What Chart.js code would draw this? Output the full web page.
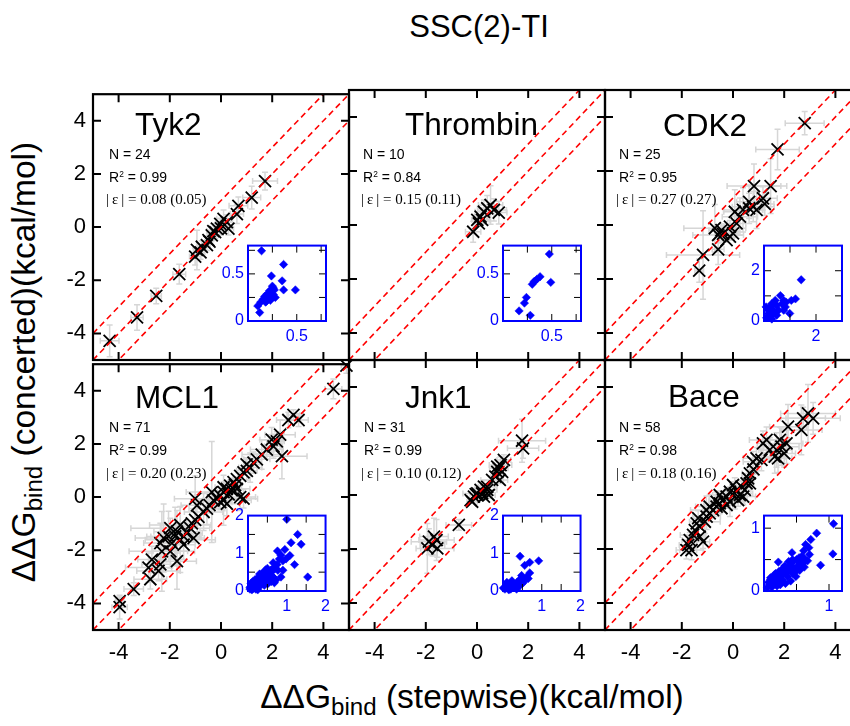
<!DOCTYPE html>
<html>
<head>
<meta charset="utf-8">
<script src="https://cdn.jsdelivr.net/npm/chart.js@4.4.1/dist/chart.umd.min.js"></script>
<style>
  body { margin: 0; background: #fff; overflow: hidden; }
  #wrap { position: relative; width: 850px; height: 726px; overflow: hidden; background: #fff;
          font-family: "Liberation Sans", Arial, Helvetica, sans-serif; color: #000; }
  #wrap canvas { position: absolute; }
  .txt { position: absolute; white-space: nowrap; line-height: 1; }
  .txt sub { font-size: 72%; vertical-align: -0.28em; line-height: 0; }
  .txt sup { font-size: 60%; vertical-align: 0.55em; line-height: 0; }
  .serif { font-family: "Liberation Serif", "Times New Roman", serif; }
</style>
</head>
<body>
<div id="wrap"></div>
<script>
const FONT = '"Liberation Sans", Arial, Helvetica, sans-serif';

// --- shared axis values ---
const mainTicks = [-4, -2, 0, 2, 4];
const diagOffsets = [-1, 0, 1];
const diagEnds = [-5, 5];

// --- Tyk2 ---
const tyk2X = [-4.35, -3.28, -2.53, -1.63, -1.01, -0.94, -0.80, -0.75, -0.55, -0.49, -0.45, -0.36, -0.30, -0.23, -0.16, -0.03, 0.00, 0.10, 0.23, 0.29, 0.62, 0.68, 1.20, 1.72];
const tyk2Y = [-4.28, -3.40, -2.59, -1.77, -1.11, -0.86, -0.95, -0.74, -0.68, -0.49, -0.55, -0.31, -0.15, -0.19, -0.06, 0.12, -0.05, 0.31, 0.19, -0.06, 0.49, 0.80, 1.11, 1.73];
const tyk2SdX = [0.365, 0.24, 0.20, 0.25, 0.22, 0.139, 0.17, 0.155, 0.13, 0.10, 0.12, 0.18, 0.26, 0.28, 0.23, 0.19, 0.25, 0.27, 0.22, 0.20, 0.26, 0.365, 0.35, 0.486];
const tyk2SdY = [0.60, 0.478, 0.29, 0.37, 0.32, 0.745, 0.26, 0.23, 0.20, 0.16, 0.09, 0.20, 0.28, 0.25, 0.22, 0.21, 0.26, 0.33, 0.27, 0.24, 0.35, 0.33, 0.426, 0.33];

// --- Thrombin ---
const thrX = [-0.15, 0.01, 0.07, 0.14, 0.20, 0.27, 0.40, 0.53, 0.66, 0.85];
const thrY = [-0.25, 0.19, 0.06, 0.31, 0.19, 0.49, 0.62, 0.74, 0.56, 0.46];
const thrSdX = [0.30, 0.22, 0.165, 0.24, 0.28, 0.345, 0.38, 0.475, 0.49, 0.32];
const thrSdY = [0.39, 0.19, 0.107, 0.25, 0.06, 0.44, 0.47, 0.71, 0.41, 0.42];

// --- CDK2 ---
const cdk2X = [2.80, 1.74, 0.82, 1.47, 0.63, 1.17, 1.24, 0.79, 0.92, 0.07, 0.27, 0.39, 0.14, -0.12, -0.71, -0.45, -0.39, -0.58, -0.12, -0.25, 0.00, -1.17, -0.58, -1.32, 0.63];
const cdk2Y = [3.77, 2.80, 1.44, 1.44, 0.86, 0.99, 0.78, 0.68, 0.56, 0.49, 0.31, 0.56, 0.06, -0.06, -0.12, -0.19, -0.33, -0.37, -0.43, -0.56, -0.31, -1.11, -0.90, -1.69, 0.62];
const cdk2SdX = [0.76, 0.85, 1.05, 0.63, 0.49, 0.56, 0.36, 0.82, 0.30, 0.43, 0.69, 0.76, 0.36, 0.23, 1.21, 0.49, 0.17, 0.99, 0.10, 0.30, 0.20, 1.43, 0.23, 0.17, 0.08];
const cdk2SdY = [0.43, 0.75, 0.82, 1.01, 0.62, 0.43, 0.43, 0.56, 0.69, 0.82, 0.69, 0.82, 0.30, 0.23, 0.88, 0.23, 0.30, 0.30, 0.13, 0.08, 0.15, 1.64, 0.56, 0.43, 0.56];

// --- MCL1 ---
const mcl1X = [4.90, 4.39, 2.83, 3.03, 2.63, 2.31, 2.18, 2.05, 2.38, 1.98, 1.79, 1.59, 1.40, 1.27, 1.14, 1.01, 1.00, 0.88, 0.75, 0.62, 0.49, 0.36, 0.42, 0.23, 0.10, -0.03, -0.16, -0.29, 0.10, 0.23, 0.75, 0.88, -1.01, -0.55, -0.68, -0.88, -1.01, -1.14, -1.20, -1.07, -1.33, -1.46, -1.59, -1.72, -1.98, -1.79, -2.05, -2.24, -2.37, -1.92, -1.46, -2.31, -1.98, -1.72, -2.70, -2.37, -2.44, -2.83, -2.76, -3.41, -3.96, -3.96, -0.36, -0.03, 0.10, -0.94, 0.62, -0.45, 0.30, -1.59, 0.55];
const mcl1Y = [4.95, 4.07, 3.09, 2.90, 2.90, 2.35, 2.10, 1.91, 1.54, 2.16, 1.79, 1.60, 1.42, 1.30, 1.11, 0.99, 1.23, 0.93, 0.80, 0.68, 0.56, 0.43, 0.25, 0.31, 0.19, 0.06, -0.06, -0.12, -0.12, -0.25, 0.00, -0.06, -0.06, -0.43, -0.56, -0.74, -0.86, -0.99, -1.17, -1.54, -1.36, -1.48, -1.60, -1.30, -1.17, -1.48, -1.48, -1.54, -1.73, -1.73, -1.79, -2.04, -2.04, -2.41, -2.35, -2.53, -2.78, -2.65, -3.09, -3.46, -3.91, -4.14, 0.19, -0.19, 0.37, -0.31, 0.31, -0.30, 0.10, -1.05, 0.45];
const mcl1SdX = [0.20, 0.33, 0.25, 0.38, 0.46, 0.59, 0.29, 0.35, 0.98, 0.46, 0.64, 0.77, 0.51, 0.30, 0.45, 0.40, 0.12, 0.05, 0.10, 0.15, 0.20, 0.08, 0.18, 0.22, 0.25, 0.30, 0.35, 0.40, 1.08, 0.50, 0.60, 0.55, 0.81, 0.70, 0.75, 0.05, 0.10, 0.20, 0.28, 0.42, 0.60, 0.68, 1.37, 0.90, 1.54, 0.95, 0.85, 1.11, 0.65, 0.50, 0.45, 1.28, 0.675, 0.76, 0.55, 0.72, 0.85, 0.90, 0.64, 0.38, 0.16, 0.30, 1.00, 0.46, 0.33, 0.62, 0.51, 0.38, 0.12, 1.20, 0.25];
const mcl1SdY = [0.29, 0.37, 0.20, 0.24, 0.29, 0.55, 0.36, 0.45, 0.85, 0.46, 0.37, 0.55, 0.20, 0.40, 0.55, 0.35, 0.25, 0.10, 0.12, 0.08, 0.15, 0.20, 0.30, 0.20, 0.25, 0.18, 0.30, 0.35, 0.94, 0.45, 0.50, 0.35, 0.85, 0.60, 0.70, 0.05, 0.03, 0.05, 0.10, 0.15, 0.25, 0.22, 1.24, 0.80, 0.37, 1.10, 0.95, 1.28, 0.75, 0.60, 0.55, 1.50, 0.63, 1.06, 0.50, 0.29, 0.37, 0.55, 0.37, 0.24, 0.15, 0.45, 1.90, 0.29, 0.20, 0.40, 0.20, 0.30, 0.06, 0.70, 0.03];

// --- Jnk1 ---
const jnk1X = [1.80, 1.76, 1.05, 0.92, 0.85, 0.79, 0.98, 0.72, 0.89, 0.59, 0.27, 0.14, 0.01, -0.12, -0.25, -0.19, 0.01, 0.20, 0.40, 0.27, 0.46, -0.71, -1.58, -1.68, -1.88, -1.94, -1.55, -1.74, 0.79, 0.40, -0.05];
const jnk1Y = [1.73, 2.01, 1.30, 1.11, 0.99, 0.86, 0.86, 0.68, 0.56, 0.56, 0.31, 0.19, 0.06, -0.06, -0.19, -0.25, -0.01, 0.06, 0.19, -0.06, 0.00, -1.11, -1.67, -1.54, -1.73, -1.98, -1.98, -1.85, 1.05, 0.30, 0.03];
const jnk1SdX = [0.61, 0.92, 0.27, 0.44, 0.36, 0.14, 0.06, 0.18, 0.31, 0.44, 0.10, 0.23, 0.56, 0.01, 0.05, 0.20, 0.12, 0.30, 0.38, 0.08, 0.25, 0.50, 0.69, 0.56, 0.69, 0.44, 0.65, 0.48, 0.15, 0.35, 0.22];
const jnk1SdY = [0.37, 0.80, 0.19, 0.31, 0.23, 0.15, 0.10, 0.08, 0.13, 0.15, 0.23, 0.27, 0.27, 0.08, 0.05, 0.05, 0.18, 0.10, 0.20, 0.12, 0.12, 0.20, 0.76, 0.68, 0.48, 0.92, 0.33, 0.41, 0.03, 0.05, 0.22];

// --- Bace ---
const baceX = [2.93, 3.13, 2.74, 2.67, 2.15, 2.09, 1.89, 1.70, 1.63, 1.76, 1.31, 1.17, 1.44, 0.92, 0.78, 0.66, 0.59, 0.53, 0.33, 0.14, 0.00, -0.12, 0.27, 0.20, -0.25, -0.39, -0.52, -0.64, -0.78, -0.45, -0.25, -0.91, -1.03, -1.10, -1.30, -1.42, -1.49, -1.30, -1.17, -1.69, -1.75, -1.82, -1.62, -1.56, -0.12, 0.07, 0.40, 0.46, 0.66, 1.11, 1.83, 2.00, -0.64, -0.91, -1.04, -1.36, -0.52, 0.80];
const baceY = [3.02, 2.84, 2.84, 2.41, 2.53, 1.91, 1.79, 1.67, 1.42, 1.36, 2.04, 1.91, 1.67, 1.36, 1.23, 0.80, 0.62, 0.43, 0.31, 0.19, 0.37, 0.12, 0.00, -0.19, -0.06, -0.19, -0.31, -0.43, -0.56, -0.49, -0.37, -0.68, -0.80, -0.99, -1.17, -1.05, -1.30, -1.54, -1.73, -1.67, -1.85, -2.04, -2.04, -1.48, -0.25, 0.06, -0.06, 0.19, 0.43, 1.30, 2.04, 1.54, -0.25, -0.43, -0.56, -0.86, 0.00, 0.95];
const baceSdX = [1.07, 1.06, 0.87, 0.81, 0.72, 0.64, 0.69, 0.61, 0.43, 0.54, 0.67, 0.22, 0.43, 0.52, 0.38, 0.31, 0.23, 0.16, 0.10, 0.07, 0.13, 0.20, 0.28, 0.36, 0.44, 0.55, 0.62, 0.49, 0.41, 0.33, 0.25, 0.18, 0.54, 0.60, 0.05, 0.08, 0.12, 0.20, 0.26, 0.30, 0.35, 0.40, 0.46, 0.50, 0.58, 0.70, 0.48, 0.24, 0.15, 0.32, 0.38, 0.44, 0.29, 0.55, 0.62, 0.18, 0.27, 0.10];
const baceSdY = [1.07, 0.59, 0.41, 0.92, 0.82, 0.74, 0.69, 0.64, 0.61, 0.53, 0.48, 0.46, 0.45, 0.40, 0.38, 0.33, 0.31, 0.26, 0.21, 0.14, 0.12, 0.16, 0.18, 0.23, 0.28, 0.33, 0.38, 0.23, 0.16, 0.12, 0.10, 0.21, 0.48, 0.44, 0.05, 0.10, 0.06, 0.08, 0.25, 0.28, 0.30, 0.33, 0.36, 0.50, 0.55, 0.58, 0.30, 0.20, 0.16, 0.40, 0.47, 0.50, 0.36, 0.45, 0.52, 0.28, 0.15, 0.18];

// --- inset axes (max, tick marks, labels) ---
const insetMax = [0.8, 0.8, 3, 2, 2, 1.2];
const insetTicks = [[0.25, 0.5, 0.75], [0.25, 0.5, 0.75], [1, 2], [0.5, 1, 1.5], [0.5, 1, 1.5], [0.5, 1]];
const insetYLabels = [[0, 0.5], [0, 0.5], [0, 2], [0, 1, 2], [0, 1, 2], [0, 1]];
const insetXLabels = [[0.5], [0.5], [2], [1, 2], [1, 2], [1]];

// --- panel text ---
const panelNames = ['Tyk2', 'Thrombin', 'CDK2', 'MCL1', 'Jnk1', 'Bace'];
const panelN = [24, 10, 25, 71, 31, 58];
const panelR2 = ['0.99', '0.84', '0.95', '0.99', '0.99', '0.98'];
const panelErr = ['0.08 (0.05)', '0.15 (0.11)', '0.27 (0.27)', '0.20 (0.23)', '0.10 (0.12)', '0.18 (0.16)'];

const series = [
  [tyk2X, tyk2Y, tyk2SdX, tyk2SdY],
  [thrX, thrY, thrSdX, thrSdY],
  [cdk2X, cdk2Y, cdk2SdX, cdk2SdY],
  [mcl1X, mcl1Y, mcl1SdX, mcl1SdY],
  [jnk1X, jnk1Y, jnk1SdX, jnk1SdY],
  [baceX, baceY, baceSdX, baceSdY]
];

// --- layout ---
const colLeft = [93, 349, 605];
const rowTop = [90, 360];
const PW = 256, PH = 270;
const M = { l: 45, t: 16, r: 12, b: 40 };       // main canvas margins
const IM = { l: 32, t: 12, r: 10, b: 22 };      // inset canvas margins
const insetDx = [155, 154, 159];
const insetDy = 154, IW = 78, IH = 77;

const wrap = document.getElementById('wrap');

// gray error bars, clipped to the plot box
const errorBars = {
  id: 'errorBars',
  beforeDatasetsDraw(chart) {
    const { ctx, chartArea: a, scales: { x, y } } = chart;
    ctx.save();
    ctx.beginPath();
    ctx.rect(a.left, a.top, a.width, a.height);
    ctx.clip();
    ctx.strokeStyle = '#d6d6d6';
    ctx.lineWidth = 1.5;
    chart.data.datasets[0].data.forEach(p => {
      const px = x.getPixelForValue(p.x), py = y.getPixelForValue(p.y);
      const x0 = x.getPixelForValue(p.x - p.ex), x1 = x.getPixelForValue(p.x + p.ex);
      const y0 = y.getPixelForValue(p.y - p.ey), y1 = y.getPixelForValue(p.y + p.ey);
      ctx.beginPath();
      ctx.moveTo(x0, py); ctx.lineTo(x1, py);
      ctx.moveTo(x0, py - 3); ctx.lineTo(x0, py + 3);
      ctx.moveTo(x1, py - 3); ctx.lineTo(x1, py + 3);
      ctx.moveTo(px, y0); ctx.lineTo(px, y1);
      ctx.moveTo(px - 3, y0); ctx.lineTo(px + 3, y0);
      ctx.moveTo(px - 3, y1); ctx.lineTo(px + 3, y1);
      ctx.stroke();
    });
    ctx.restore();
  }
};

// frame + inward ticks on all four sides
const frameTicks = {
  id: 'frameTicks',
  beforeDraw(chart, args, o) {
    if (!o.fill) return;
    const { ctx, chartArea: a } = chart;
    ctx.save();
    ctx.fillStyle = o.fill;
    ctx.fillRect(a.left, a.top, a.width, a.height);
    ctx.restore();
  },
  afterDraw(chart, args, o) {
    const { ctx, chartArea: a, scales: { x, y } } = chart;
    ctx.save();
    ctx.strokeStyle = o.tickColor;
    ctx.lineWidth = o.tickWidth;
    ctx.beginPath();
    o.ticks.forEach(v => {
      const px = x.getPixelForValue(v), py = y.getPixelForValue(v);
      ctx.moveTo(px, a.top); ctx.lineTo(px, a.top + o.len);
      ctx.moveTo(px, a.bottom); ctx.lineTo(px, a.bottom - o.len);
      ctx.moveTo(a.left, py); ctx.lineTo(a.left + o.len, py);
      ctx.moveTo(a.right, py); ctx.lineTo(a.right - o.len, py);
    });
    ctx.stroke();
    ctx.strokeStyle = o.color;
    ctx.lineWidth = o.width;
    ctx.strokeRect(a.left, a.top, a.width, a.height);
    ctx.restore();
  }
};

function axis(min, max, labels, show, size, color, pad, fit) {
  return {
    type: 'linear', min, max,
    grid: { display: false, drawTicks: false },
    border: { display: false },
    afterBuildTicks: s => { s.ticks = labels.map(v => ({ value: v })); },
    afterFit: fit,
    ticks: { display: show, autoSkip: false, maxRotation: 0, padding: pad, color,
             font: { family: FONT, size }, callback: v => String(v) }
  };
}

function addCanvas(left, top, w, h) {
  const c = document.createElement('canvas');
  c.width = w; c.height = h;
  c.style.left = left + 'px'; c.style.top = top + 'px';
  c.style.width = w + 'px'; c.style.height = h + 'px';
  wrap.appendChild(c);
  return c;
}

function addText(html, left, baseline, size, cls) {
  const d = document.createElement('div');
  d.className = 'txt' + (cls ? ' ' + cls : '');
  d.innerHTML = html;
  d.style.fontSize = size + 'px';
  d.style.left = left + 'px';
  d.style.top = (baseline - 0.846 * size) + 'px';
  wrap.appendChild(d);
  return d;
}

function mainPanel(i) {
  const col = i % 3, row = Math.floor(i / 3);
  const [xs, ys, sx, sy] = series[i];
  const pts = xs.map((v, k) => ({ x: v, y: ys[k], ex: sx[k], ey: sy[k] }));
  const lines = diagOffsets.map(o => ({
    type: 'line',
    data: diagEnds.map(v => ({ x: v, y: v + o })),
    showLine: true, borderColor: '#ff0000', borderWidth: 1.6, borderDash: [6, 4],
    pointRadius: 0, fill: false, order: 1
  }));
  const c = addCanvas(colLeft[col] - M.l, rowTop[row] - M.t, M.l + PW + M.r, M.t + PH + M.b);
  new Chart(c, {
    type: 'scatter',
    data: {
      datasets: [{
        data: pts, pointStyle: 'crossRot', pointRadius: 8.5, pointBorderColor: '#000',
        pointBackgroundColor: '#000', pointBorderWidth: 1.8, clip: false, order: 2
      }, ...lines]
    },
    options: {
      responsive: false, animation: false, devicePixelRatio: 1, events: [],
      layout: { padding: { left: 0, top: M.t, right: M.r, bottom: 0 } },
      plugins: {
        legend: { display: false }, tooltip: { enabled: false },
        frameTicks: { ticks: mainTicks, len: 8, color: '#000', width: 2.2, tickColor: '#000', tickWidth: 2 }
      },
      scales: {
        x: axis(-5, 5, mainTicks, row === 1, 22, '#000', 10, s => { s.height = M.b; }),
        y: axis(-5, 5, mainTicks, col === 0, 22, '#000', 7, s => { s.width = M.l; })
      }
    },
    plugins: [errorBars, frameTicks]
  });
}

function insetPanel(i) {
  const col = i % 3, row = Math.floor(i / 3);
  const [, , sx, sy] = series[i];
  const pts = sx.map((v, k) => ({ x: v, y: sy[k] }));
  const bl = colLeft[col] + insetDx[col], bt = rowTop[row] + insetDy;
  const c = addCanvas(bl - IM.l, bt - IM.t, IM.l + IW + IM.r, IM.t + IH + IM.b);
  const mx = insetMax[i];
  new Chart(c, {
    type: 'scatter',
    data: {
      datasets: [{
        data: pts, pointStyle: 'rectRot', pointRadius: 4.2, pointBackgroundColor: '#0000ff',
        pointBorderColor: '#0000ff', pointBorderWidth: 0.5, clip: false
      }]
    },
    options: {
      responsive: false, animation: false, devicePixelRatio: 1, events: [],
      layout: { padding: { left: 0, top: IM.t, right: IM.r, bottom: 0 } },
      plugins: {
        legend: { display: false }, tooltip: { enabled: false },
        frameTicks: { ticks: insetTicks[i], len: 7, color: '#0000ff', width: 2, tickColor: '#000', tickWidth: 1, fill: '#fff' }
      },
      scales: {
        x: axis(0, mx, insetXLabels[i], true, 16, '#0000ff', 6, s => { s.height = IM.b; }),
        y: axis(0, mx, insetYLabels[i], true, 16, '#0000ff', 4, s => { s.width = IM.l; })
      }
    },
    plugins: [frameTicks]
  });
}

for (let i = 0; i < 6; i++) mainPanel(i);
for (let i = 0; i < 6; i++) insetPanel(i);

// --- panel labels and statistics ---
const nameLeft = [135, 405, 663, 135, 405, 668];
const nameBase = [136, 136, 137, 409, 409, 408];
const statLeft = [109, 363, 619, 109, 364, 619];
const errLeft = [106, 361, 616, 106, 361, 616];
const statBase = [[159, 182, 205], [432, 455, 479]];
for (let i = 0; i < 6; i++) {
  const row = Math.floor(i / 3);
  addText(panelNames[i], nameLeft[i], nameBase[i], 31.5);
  addText('N = ' + panelN[i], statLeft[i], statBase[row][0], 14);
  addText('R<sup>2</sup> = ' + panelR2[i], statLeft[i], statBase[row][1], 14);
  addText('|&thinsp;ε&thinsp;| = ' + panelErr[i], errLeft[i], statBase[row][2], 15, 'serif');
}

// --- titles ---
const t = addText('SSC(2)-TI', 479, 37, 31);
t.style.transform = 'translateX(-50%)';
const xt = addText('ΔΔG<sub>bind</sub> (stepwise)(kcal/mol)', 472, 708, 33.5);
xt.style.transform = 'translateX(-50%)';
const yt = document.createElement('div');
yt.className = 'txt';
yt.innerHTML = 'ΔΔG<sub>bind</sub> (concerted)(kcal/mol)';
Object.assign(yt.style, { fontSize: '33.5px', lineHeight: '33.5px', left: '23.5px', top: '362px',
  transform: 'translate(-50%, -50%) rotate(-90deg)' });
wrap.appendChild(yt);
</script>
</body>
</html>
